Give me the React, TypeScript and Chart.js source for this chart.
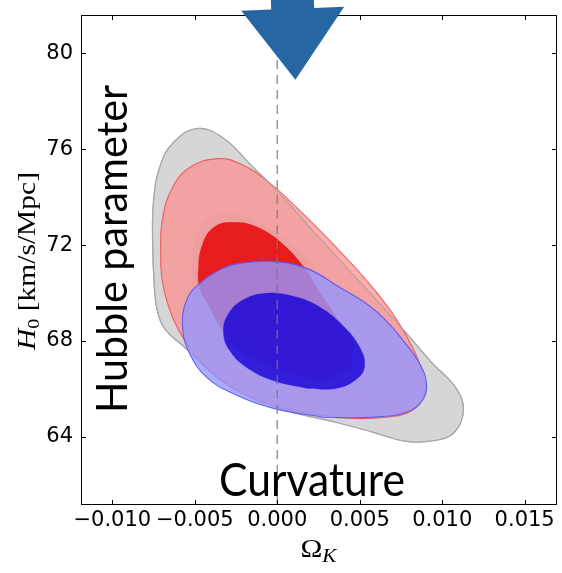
import React, { useEffect, useRef } from "react";
import { Chart, registerables } from "chart.js";

Chart.register(...registerables);

// ---- axes ----
const X_RANGE = [-0.0119, 0.0169];
const Y_RANGE = [61.2, 81.6];
const X_TICKS = [-0.01, -0.005, 0, 0.005, 0.01, 0.015];
const X_TICK_LABELS = ["\u22120.010", "\u22120.005", "0.000", "0.005", "0.010", "0.015"];
const Y_TICKS = [64, 68, 72, 76, 80];
const Y_TICK_LABELS = ["64", "68", "72", "76", "80"];

// ---- contours (Omega_K, H0) ----
const GRAY_OUTER_OMK = [-0.00489, -0.00332, -0.00168, 0.00014, 0.00214, 0.0042, 0.0062, 0.00784, 0.00941, 0.01062, 0.01117, 0.01129, 0.01105, 0.01044, 0.00923, 0.00771, 0.00578, 0.00378, 0.00135, -0.00004, -0.00168, -0.00368, -0.00562, -0.00676, -0.00725, -0.00745, -0.00756, -0.0075, -0.00713, -0.00635];
const GRAY_OUTER_H0 = [76.86, 76.49, 75.4, 74.15, 72.61, 71.07, 69.57, 68.32, 67.07, 66.24, 65.61, 65.11, 64.49, 64.03, 63.82, 63.82, 64.2, 64.57, 64.95, 65.24, 65.65, 66.49, 67.74, 68.45, 69.2, 70.24, 72.2, 73.86, 75.24, 76.24];

const GRAY_INNER_OMK = [-0.00332, -0.00168, 0.00014, 0.00196, 0.00378, 0.00529, 0.00638, 0.00668, 0.0059, 0.00378, 0.00135, -0.00107, -0.00319, -0.00441, -0.00501, -0.00514, -0.00501, -0.00441];
const GRAY_INNER_H0 = [73.28, 73.11, 72.4, 71.36, 70.11, 68.86, 67.61, 66.57, 65.95, 65.74, 65.95, 66.57, 67.4, 68.45, 69.7, 70.95, 72.07, 72.95];

const RED_OUTER_OMK = [-0.00362, -0.00228, -0.00065, 0.00135, 0.00335, 0.00541, 0.00699, 0.0082, 0.00881, 0.00893, 0.0082, 0.00662, 0.0042, 0.00178, -0.00065, -0.00271, -0.00429, -0.0055, -0.00635, -0.00695, -0.00707, -0.00695, -0.00635, -0.00532];
const RED_OUTER_H0 = [75.61, 75.4, 74.7, 73.45, 72.07, 70.53, 69.15, 67.74, 66.65, 65.82, 65.11, 64.82, 64.78, 64.99, 65.4, 66.07, 66.9, 67.9, 68.99, 70.4, 71.78, 73.15, 74.4, 75.24];

const RED_INNER_OMK = [-0.00271, -0.00107, 0.00056, 0.00178, 0.00256, 0.00359, 0.0045, 0.00456, 0.0042, 0.00275, 0.00075, -0.00125, -0.00228, -0.00332, -0.0041, -0.00471, -0.00477, -0.00459, -0.00392];
const RED_INNER_H0 = [72.95, 72.7, 71.9, 70.95, 70.03, 68.99, 68.03, 67.32, 66.78, 66.45, 66.65, 67.2, 67.61, 68.45, 69.4, 70.24, 71.07, 71.9, 72.7];

const BLUE_OUTER_OMK = [-0.00028, 0.00178, 0.00378, 0.00562, 0.0068, 0.00771, 0.00862, 0.00905, 0.00881, 0.00784, 0.00578, 0.00275, -0.00028, -0.00271, -0.00429, -0.00532, -0.00574, -0.0055, -0.00471, -0.00332, -0.00228];
const BLUE_OUTER_H0 = [71.32, 71.03, 70.24, 69.45, 68.7, 67.95, 67.07, 66.24, 65.53, 65.03, 64.82, 64.82, 65.2, 65.82, 66.49, 67.49, 68.57, 69.7, 70.4, 71.03, 71.24];

const BLUE_INNER_OMK = [-0.00065, 0.00075, 0.00238, 0.00396, 0.00499, 0.00529, 0.00487, 0.00359, 0.00178, -0.00028, -0.00186, -0.00289, -0.00325, -0.00301, -0.0021];
const BLUE_INNER_H0 = [69.99, 69.9, 69.49, 68.65, 67.74, 66.99, 66.45, 66.03, 66.03, 66.36, 66.9, 67.61, 68.32, 69.07, 69.7];

const FLAT_OMK = 0;
const ARROW_TIP_OMK = 0.0011;
const ARROW_TIP_H0 = 78.9;

// closed outline, starting at a point on a straight stretch so the seam is invisible
function closed(xs: number[], ys: number[], start: number) {
  const n = xs.length;
  const pts: { x: number; y: number }[] = [];
  for (let k = 0; k <= n; k++) {
    const i = (start + k) % n;
    pts.push({ x: xs[i], y: ys[i] });
  }
  return pts;
}

function contour(xs: number[], ys: number[], start: number, fillColor: string, lineColor: string, lineWidth: number, order: number, fill: any = "shape") {
  return {
    data: closed(xs, ys, start),
    backgroundColor: fillColor,
    borderColor: lineColor,
    borderWidth: lineWidth,
    fill,
    tension: 0.42,
    pointRadius: 0,
    pointHoverRadius: 0,
    showLine: true,
    order,
  };
}

function drawParts(ctx: CanvasRenderingContext2D, parts: { t: string; f: string; dy: number }[], cx: number, cy: number, rot: number, targetW: number) {
  ctx.save();
  let total = 0;
  const ws = parts.map((p) => {
    ctx.font = p.f;
    const w = ctx.measureText(p.t).width;
    total += w;
    return w;
  });
  ctx.translate(cx, cy);
  ctx.rotate(rot);
  ctx.scale(targetW / total, 1);
  ctx.fillStyle = "#000";
  ctx.textBaseline = "alphabetic";
  ctx.textAlign = "left";
  let x = -total / 2;
  parts.forEach((p, i) => {
    ctx.font = p.f;
    ctx.fillText(p.t, x, p.dy);
    x += ws[i];
  });
  ctx.restore();
}

const decor = {
  id: "decor",
  afterDraw(chart: any) {
    const ctx: CanvasRenderingContext2D = chart.ctx;
    const { left, right, top, bottom } = chart.chartArea;
    const xs = chart.scales.x;
    const ys = chart.scales.y;
    const L = Math.floor(left) + 0.5;
    const R = Math.floor(right) + 0.5;
    const T = Math.floor(top) + 0.5;
    const B = Math.floor(bottom) + 0.5;
    ctx.save();
    ctx.strokeStyle = "#000";
    ctx.lineWidth = 1;
    ctx.strokeRect(L, T, R - L, B - T);
    const tl = 4.5;
    ctx.beginPath();
    X_TICKS.forEach((v) => {
      const p = Math.round(xs.getPixelForValue(v)) + 0.5;
      ctx.moveTo(p, B);
      ctx.lineTo(p, B - tl);
      ctx.moveTo(p, T);
      ctx.lineTo(p, T + tl);
    });
    Y_TICKS.forEach((v) => {
      const p = Math.round(ys.getPixelForValue(v)) + 0.5;
      ctx.moveTo(L, p);
      ctx.lineTo(L + tl, p);
      ctx.moveTo(R, p);
      ctx.lineTo(R - tl, p);
    });
    ctx.stroke();
    ctx.restore();

    // axis titles
    drawParts(
      ctx,
      [
        { t: "H", f: 'italic 25px "Liberation Serif"', dy: 0 },
        { t: "0", f: '17px "Liberation Serif"', dy: 4 },
        { t: " [km/s/Mpc]", f: '25px "Liberation Serif"', dy: 0 },
      ],
      35,
      (top + bottom) / 2 + 1.5,
      -Math.PI / 2,
      178
    );
    drawParts(
      ctx,
      [
        { t: "\u03A9", f: '25px "Liberation Serif"', dy: 0 },
        { t: "K", f: 'italic 18px "Liberation Serif"', dy: 5 },
      ],
      (left + right) / 2,
      557,
      0,
      36
    );

    // big annotations
    drawParts(ctx, [{ t: "Hubble parameter", f: '42px Lato', dy: 0 }], 127, 249, -Math.PI / 2, 328);
    drawParts(ctx, [{ t: "Curvature", f: '46px Lato', dy: 0 }], 312, 496, 0, 186);

    // arrow
    const tx = xs.getPixelForValue(ARROW_TIP_OMK);
    const ty = ys.getPixelForValue(ARROW_TIP_H0);
    ctx.save();
    ctx.translate(tx, ty);
    ctx.rotate(-0.038);
    ctx.fillStyle = "#2666a3";
    ctx.beginPath();
    ctx.moveTo(0, 0);
    ctx.lineTo(-51.5, -71);
    ctx.lineTo(-21.5, -71);
    ctx.lineTo(-21.5, -110);
    ctx.lineTo(21.5, -110);
    ctx.lineTo(21.5, -71);
    ctx.lineTo(51.5, -71);
    ctx.closePath();
    ctx.fill();
    ctx.restore();
  },
};

export default function App() {
  const ref = useRef<HTMLCanvasElement>(null);
  useEffect(() => {
    if (!ref.current) return;
    const chart = new Chart(ref.current, {
      type: "line",
      data: {
        datasets: [
          contour(GRAY_OUTER_OMK, GRAY_OUTER_H0, 4, "#d6d6d6", "#a9a9a9", 1.2, 10),
          contour(GRAY_INNER_OMK, GRAY_INNER_H0, 3, "#c8c8c8", "rgba(0,0,0,0)", 0, 9),
          contour(RED_OUTER_OMK, RED_OUTER_H0, 4, "rgba(255,140,140,0.7)", "rgba(238,80,80,0.85)", 1.1, 8),
          contour(GRAY_OUTER_OMK, GRAY_OUTER_H0, 4, "rgba(0,0,0,0)", "rgba(169,169,169,0.8)", 1.2, 7, false),
          contour(RED_INNER_OMK, RED_INNER_H0, 3, "rgb(232,28,28)", "rgb(232,28,28)", 0.5, 6),
          contour(BLUE_OUTER_OMK, BLUE_OUTER_H0, 11, "rgba(150,150,255,0.8)", "rgba(85,85,240,0.9)", 1.1, 5),
          contour(BLUE_INNER_OMK, BLUE_INNER_H0, 8, "rgba(20,0,215,0.8)", "rgba(20,0,215,0.8)", 0.5, 4),
          {
            data: [
              { x: FLAT_OMK, y: Y_RANGE[0] },
              { x: FLAT_OMK, y: Y_RANGE[1] },
            ],
            borderColor: "rgba(120,120,120,0.75)",
            borderWidth: 1.5,
            borderDash: [9, 6],
            fill: false,
            pointRadius: 0,
            pointHoverRadius: 0,
            tension: 0,
            order: 0,
          },
        ],
      } as any,
      options: {
        animation: false,
        responsive: false,
        maintainAspectRatio: false,
        devicePixelRatio: 1,
        layout: { padding: { left: 0, right: 6, top: 15, bottom: 0 } },
        plugins: { legend: { display: false }, tooltip: { enabled: false } },
        events: [],
        scales: {
          x: {
            type: "linear",
            min: X_RANGE[0],
            max: X_RANGE[1],
            grid: { display: false, drawTicks: false },
            border: { display: false },
            afterBuildTicks: (s: any) => {
              s.ticks = X_TICKS.map((v) => ({ value: v }));
            },
            afterFit: (s: any) => {
              s.height = 69;
              s.paddingLeft = 0;
              s.paddingRight = 0;
            },
            ticks: {
              autoSkip: false,
              maxRotation: 0,
              padding: 4,
              color: "#000",
              font: { family: "DejaVu Sans", size: 21 },
              callback: (v: any) => {
                const i = X_TICKS.findIndex((t) => Math.abs(t - v) < 1e-9);
                return i >= 0 ? X_TICK_LABELS[i] : "";
              },
            },
          },
          y: {
            type: "linear",
            min: Y_RANGE[0],
            max: Y_RANGE[1],
            grid: { display: false, drawTicks: false },
            border: { display: false },
            afterBuildTicks: (s: any) => {
              s.ticks = Y_TICKS.map((v) => ({ value: v }));
            },
            afterFit: (s: any) => {
              s.width = 81;
              s.paddingTop = 0;
              s.paddingBottom = 0;
            },
            ticks: {
              autoSkip: false,
              padding: 8,
              color: "#000",
              font: { family: "DejaVu Sans", size: 21 },
              callback: (v: any) => {
                const i = Y_TICKS.findIndex((t) => Math.abs(t - v) < 1e-9);
                return i >= 0 ? Y_TICK_LABELS[i] : "";
              },
            },
          },
        },
      } as any,
      plugins: [decor],
    });
    return () => chart.destroy();
  }, []);
  return (
    <div style={{ position: "absolute", left: 0, top: 0, width: 562, height: 573, background: "#fff" }}>
      <canvas ref={ref} width={562} height={573} style={{ display: "block" }} />
    </div>
  );
}
